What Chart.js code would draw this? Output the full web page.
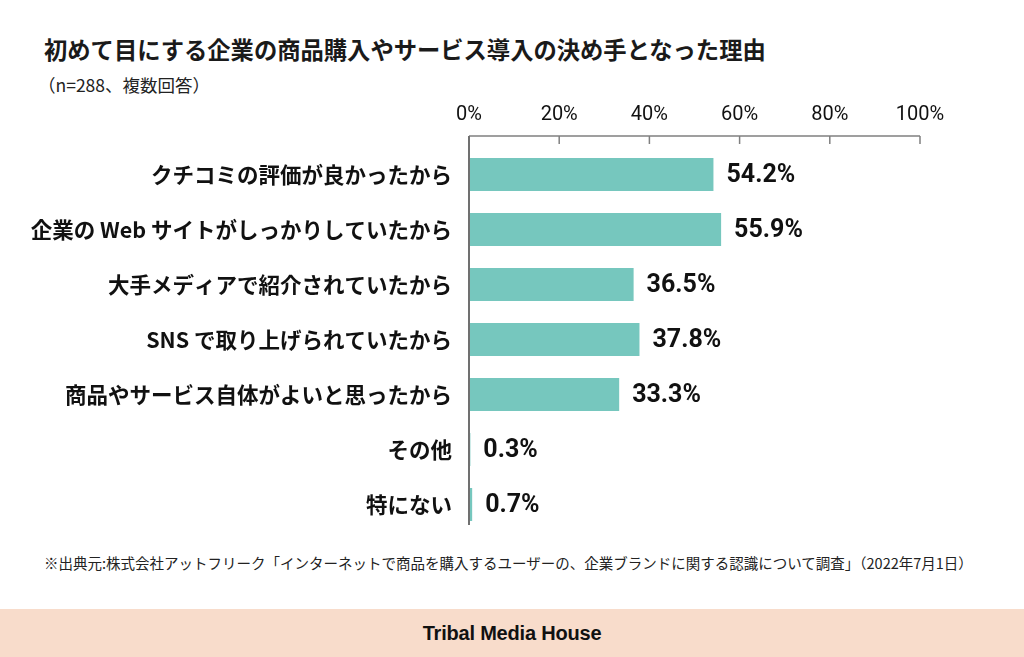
<!DOCTYPE html>
<html lang="ja">
<head>
<meta charset="utf-8">
<script src="https://cdn.jsdelivr.net/npm/chart.js@4.4.0/dist/chart.umd.min.js"></script>
<style>
	html, body { margin: 0; padding: 0; background: #fff; }
	body { width: 1024px; height: 657px; position: relative; overflow: hidden; font-family: 'Noto Sans CJK JP', sans-serif; color: #1a1a1a; }
	#title { position: absolute; left: 44px; top: 38px; font-size: 23.3px; font-weight: bold; line-height: 1; white-space: nowrap; }
	#sub { position: absolute; left: 38px; top: 76px; font-size: 17.5px; line-height: 1; color: #222; white-space: nowrap; }
	#chart-box { position: absolute; left: 0; top: 90px; width: 1024px; height: 450px; }
	#chart-box canvas { display: block; }
	#note { position: absolute; left: 44px; top: 556px; font-size: 14.5px; line-height: 1; color: #222; white-space: nowrap; }
	#band { position: absolute; left: 0; top: 609px; width: 1024px; height: 48px; background: #f8dccb; }
	#brand { position: absolute; left: 0; width: 1024px; top: 14px; text-align: center; font-family: 'Liberation Sans', sans-serif; font-weight: bold; font-size: 20px; line-height: 1; color: #111; letter-spacing: -0.2px; }
</style>
</head>
<body>
<div id="title">初めて目にする企業の商品購入やサービス導入の決め手となった理由</div>
<div id="sub">（n=288、複数回答）</div>
<div id="chart-box"><canvas id="reason-chart" width="1024" height="450"></canvas></div>
<div id="note">※出典元:株式会社アットフリーク「インターネットで商品を購入するユーザーの、企業ブランドに関する認識について調査」（2022年7月1日）</div>
<div id="band"><div id="brand">Tribal Media House</div></div>

<script>
	// data
	const categories = [
		"クチコミの評価が良かったから",
		"企業の Web サイトがしっかりしていたから",
		"大手メディアで紹介されていたから",
		"SNS で取り上げられていたから",
		"商品やサービス自体がよいと思ったから",
		"その他",
		"特にない"
	];
	const percentages = [54.2, 55.9, 36.5, 37.8, 33.3, 0.3, 0.7];
	const tickValues = [0, 20, 40, 60, 80, 100];

	// axis lines: horizontal line above the bars with ticks hanging down, plus the vertical baseline
	const axisLines = {
		id: 'axisLines',
		afterDatasetsDraw(chart){
			let ctx = chart.ctx;
			let x = chart.scales.x;
			let area = chart.chartArea;
			let top = area.top - 11;
			ctx.save();
			ctx.strokeStyle = '#808080';
			ctx.lineWidth = 1.5;
			ctx.beginPath();
			ctx.moveTo(x.getPixelForValue(0), top);
			ctx.lineTo(x.getPixelForValue(100), top);
			for(let i=0; i<tickValues.length; i++){
				let px = x.getPixelForValue(tickValues[i]);
				ctx.moveTo(px, top);
				ctx.lineTo(px, top + 8);
			}
			ctx.stroke();
			ctx.strokeStyle = '#707070';
			ctx.lineWidth = 2;
			ctx.beginPath();
			ctx.moveTo(x.getPixelForValue(0), top);
			ctx.lineTo(x.getPixelForValue(0), area.bottom - 7);
			ctx.stroke();
			ctx.restore();
		}
	};

	// value labels right of each bar
	const valueLabels = {
		id: 'valueLabels',
		afterDatasetsDraw(chart){
			let ctx = chart.ctx;
			let meta = chart.getDatasetMeta(0);
			ctx.save();
			ctx.fillStyle = '#111';
			ctx.font = 'bold 25px Roboto, sans-serif';
			ctx.textAlign = 'left';
			ctx.textBaseline = 'middle';
			meta.data.forEach(function(bar, i){
				ctx.fillText(percentages[i].toFixed(1) + '%', bar.x + 13, bar.y + 1);
			});
			ctx.restore();
		}
	};

	let ctx = document.getElementById('reason-chart').getContext('2d');
	new Chart(ctx, {
		type: 'bar',
		data: {
			labels: categories,
			datasets: [{
				data: percentages,
				backgroundColor: 'rgb(118, 199, 190)',
				borderWidth: 0,
				categoryPercentage: 1,
				barPercentage: 0.6
			}]
		},
		options: {
			indexAxis: 'y',
			responsive: false,
			animation: false,
			layout: { autoPadding: false, padding: { left: 0, right: 104, top: 0, bottom: 8 } },
			plugins: { legend: { display: false }, tooltip: { enabled: false } },
			scales: {
				x: {
					position: 'top',
					min: 0,
					max: 100,
					grid: { display: false, drawTicks: false },
					border: { display: false },
					ticks: {
						stepSize: 20,
						padding: 20,
						color: '#111',
						font: { family: 'Roboto', size: 20 },
						callback: function(v){ return v + '%'; }
					},
					afterFit: function(scale){ scale.height = 57; }
				},
				y: {
					grid: { display: false, drawTicks: false },
					border: { display: false },
					ticks: {
						padding: 17,
						color: '#111',
						font: { family: "'Noto Sans CJK JP'", size: 21.5, weight: 'bold' }
					},
					afterFit: function(scale){
						scale.width = 469;
						scale.paddingTop = 0;
						scale.paddingBottom = 0;
					}
				}
			}
		},
		plugins: [axisLines, valueLabels]
	});
</script>
</body>
</html>
